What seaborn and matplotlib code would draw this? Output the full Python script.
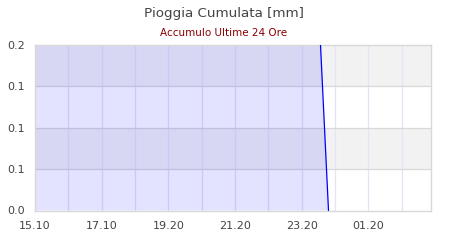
import matplotlib
matplotlib.use("Agg")
import matplotlib.pyplot as plt
import seaborn as sns
import pandas as pd
import numpy as np

# Data (hours after 15:10, cumulative rain mm)
hours = [0.0, 8.445, 8.805]
rain_mm = [0.3, 0.3, 0.0]
x_max_hours = 11.865
tick_hours = [0, 2, 4, 6, 8, 10]
tick_labels = ["15.10", "17.10", "19.20", "21.20", "23.20", "01.20"]
y_ticks = [0.0, 0.05, 0.1, 0.15, 0.2]
y_tick_labels = ["0.0", "0.1", "0.1", "0.1", "0.2"]
title = "Pioggia Cumulata [mm]"
subtitle = "Accumulo Ultime 24 Ore"

df = pd.DataFrame({"hours": hours, "rain": rain_mm})

sns.set_theme(style="white")
plt.rcParams['font.family'] = ['DejaVu Sans']

fig = plt.figure(figsize=(4.5, 2.4), dpi=100)
ax = fig.add_axes([35/450, 1 - 210.5/240, (430.5-35)/450, (210.5-45)/240])

# alternating bands
for i in range(len(y_ticks) - 1):
    if i % 2 == 1:
        ax.axhspan(y_ticks[i], y_ticks[i+1], color="#f2f2f2", zorder=0, lw=0)

# grid
for h in np.arange(1, 12):
    ax.axvline(h, color="#e4e4f4", lw=0.9, zorder=1)
for yv in y_ticks[1:-1]:
    ax.axhline(yv, color="#d8d8d8", lw=0.9, zorder=1)

ax.fill_between(df["hours"], df["rain"], 0, color="#0000ff", alpha=0.11, lw=0, zorder=2)
sns.lineplot(data=df, x="hours", y="rain", ax=ax, color="#0000ff", lw=0.9, zorder=3)

ax.set_xlim(0, x_max_hours)
ax.set_ylim(0, 0.2)
ax.set_xticks(tick_hours)
ax.set_xticklabels(tick_labels)
ax.set_yticks(y_ticks)
ax.set_yticklabels(y_tick_labels)
ax.set_xlabel("")
ax.set_ylabel("")
ax.tick_params(axis="both", length=0, labelsize=8, colors="#444444")
ax.tick_params(axis="x", pad=7.5)
ax.tick_params(axis="y", pad=7)
for s in ax.spines.values():
    s.set_color("#d8d8d8")
    s.set_linewidth(1.0)

fig.text(224/450, 1 - 13/240, title, ha="center", va="center", fontsize=9.7, color="#444444")
fig.text(224/450, 1 - 33/240, subtitle, ha="center", va="center", fontsize=7.5, color="#8b0000")

fig.savefig("out.png", dpi=100)
